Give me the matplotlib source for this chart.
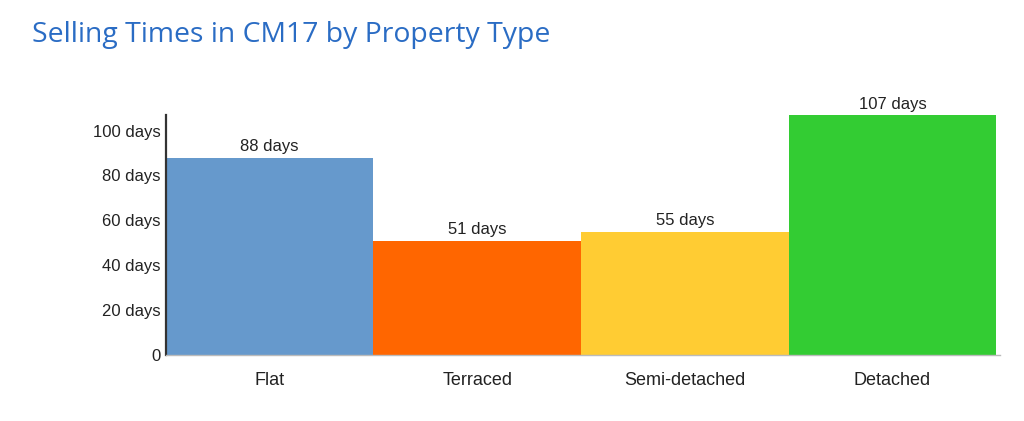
import matplotlib
matplotlib.use("Agg")
import matplotlib.pyplot as plt

plt.rcParams["font.family"] = ["Liberation Sans", "DejaVu Sans"]

categories = ["Flat", "Terraced", "Semi-detached", "Detached"]
days = [88, 51, 55, 107]
colors = ["#6699cc", "#ff6600", "#ffcc33", "#33cc33"]
yticks = [0, 20, 40, 60, 80, 100]
ytick_labels = ["0", "20 days", "40 days", "60 days", "80 days", "100 days"]

fig = plt.figure(figsize=(10.24, 4.21), dpi=100)
ax = fig.add_axes([0.162, 0.157, 0.815, 0.570])

x = range(len(categories))
ax.bar(x, days, width=1.0, color=colors, edgecolor="none")
for xi, v in zip(x, days):
    ax.text(xi, v + 1.4, f"{v} days", ha="center", va="bottom", fontsize=12,
            color="#222222")

ax.set_xlim(-0.5, 3.52)
ax.set_ylim(0, 107)
ax.set_yticks(yticks)
ax.set_yticklabels(ytick_labels, fontsize=12, color="#222222")
ax.set_xticks(list(x))
ax.set_xticklabels(categories, fontsize=13, color="#222222")
ax.tick_params(axis="both", length=0)
ax.tick_params(axis="y", pad=4)
ax.tick_params(axis="x", pad=12)

for s in ["top", "right"]:
    ax.spines[s].set_visible(False)
ax.spines["left"].set_color("#333333")
ax.spines["left"].set_linewidth(1.6)
ax.spines["bottom"].set_color("#bbbbbb")
ax.spines["bottom"].set_linewidth(1.0)

fig.text(0.031, 0.918, "Selling Times in CM17 by Property Type", fontsize=20.4,
         color="#2a6cc4", family="Open Sans", fontweight="medium",
         va="center", ha="left")

fig.savefig("out.png", dpi=100, facecolor="white")
